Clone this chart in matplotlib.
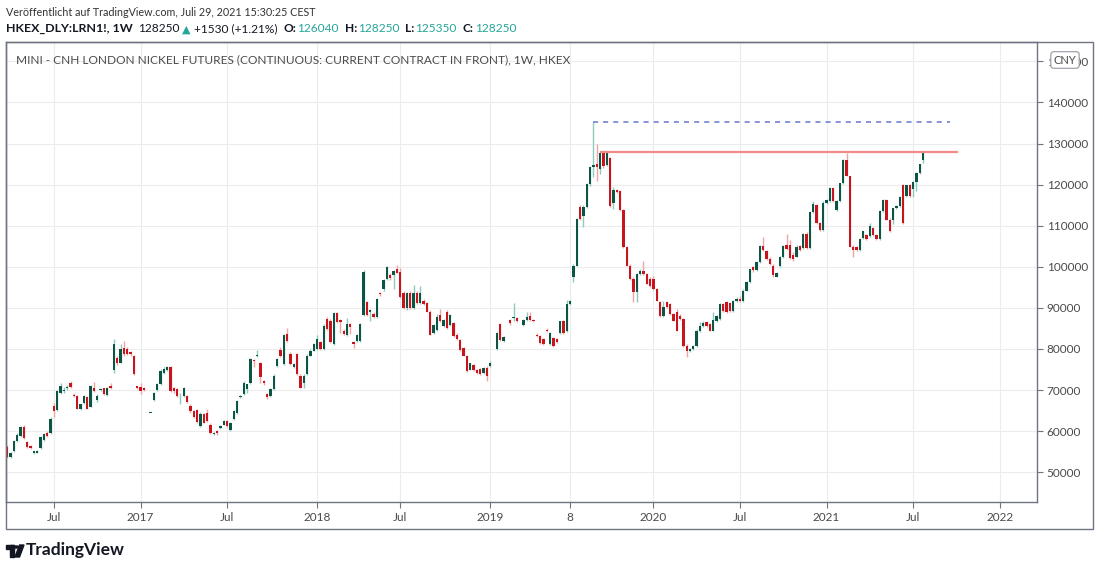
import numpy as np
import matplotlib
matplotlib.use("Agg")
import matplotlib.pyplot as plt
from matplotlib.patches import Rectangle, Circle, Polygon

plt.rcParams['font.family'] = ['Lato', 'DejaVu Sans']

# weekly candles, HKEX mini CNH London nickel (continuous), one bar per traded week
opens = [
    56100, 53800, 55100, 57600, 58800, 61100, 57300, 56500, 54600, 54800,
    55900, 57900, 59600, 59600, 66200, 65200, 69300, 69700, 70400, 71800,
    68900, 68500, 65400, 66800, 68200, 66000, 70500, 67700, 70100, 70400,
    68900, 70900, 75000, 77700, 76700, 80200, 80100, 79200, 78400, 70900,
    70700, 70500, None, 64400, 67700, 70100, 71500, 74200, 74800, 75500,
    70500, 70300, 68500, 68600, 68600, 66200, 64900, 65200, 61200, 64300,
    64500, 61600, 59200, 60000, 60800, 61600, 62500, 60400, 62900, 64500,
    68200, 69000, 70200, 71800, 77300, 78200, 76500, 72200, 69000, 68600,
    70200, 75900, 79800, 76300, 83700, 78800, 75500, 78800, 73500, 71800,
    73900, 78400, 79600, 80000, 81600, 80000, 87400, 86900, 81200, 88700,
    87100, 84500, 83300, 86100, 81600, 82000, 82000, 88200, 91400, 89000,
    88600, 87800, 93600, 94700, 97100, 98100, 98000, 99400, 98800, 93600,
    89900, 93600, 89900, 93600, 91100, 91800, 91100, 89100, 83900, 84700,
    88300, 85500, 89100, 85900, 86300, 83500, 82300, 80300, 78400, 75000,
    76200, 74900, 75200, 74200, 75400, 75800, None, 80000, 86100, 81900,
    None, 87100, 87500, 87500, None, 85900, 87100, 88100, 87100, 83500,
    83100, 82400, 84700, 81100, 82700, 82400, 83900, 86700, 84300, 91000,
    97500, 100300, 114600, 112300, 114600, 120200, 124200, 125000, 123900, 127600,
    124800, 126400, 115600, 118600, 118400, 113700, 104800, 100300, 97100, 93800,
    98300, 98900, 98300, 97100, 97100, 94600, 91400, 88100, 91400, 91000,
    88400, 88900, 88100, 87300, 80800, 79600, 80000, 80800, 84500, 85700,
    86500, 86100, 84500, 86900, 87300, 91000, 91400, 91200, 89300, 91800,
    92200, 91800, 94200, 96300, 99900, 99100, 101100, 105000, 103800, 102000,
    100300, 97600, 100300, 102400, 105200, 105400, 102900, 102500, 105100, 104500,
    108100, 104500, 113300, 115000, 110700, 108900, 115600, 116000, 119100, 113700,
    116000, 120300, 126100, 122000, 104900, 104800, 104100, 107000, 107800, 107400,
    109500, 107800, 106700, 113600, 116200, 111500, 111500, 114200, 114800, 119800,
    117300, 119800, 118900, 120700, 122800, 126040,
]
highs = [
    56600, 55000, 57900, 59500, 61300, 61500, 57600, 56700, 55300, 55400,
    58800, 59500, 60000, 63400, 66800, 70100, 71800, 70800, 71300, 72100,
    69300, 68900, 66700, 68800, 68500, 71200, 72000, 69000, 70500, 70600,
    70800, 71800, 82500, 78200, 81200, 82000, 80500, 79600, 78600, 71100,
    71800, 70800, None, 64400, 69600, 71800, 75100, 75600, 75900, 75900,
    70800, 70600, 69200, 70800, 68900, 66500, 65200, 65500, 64600, 64500,
    65500, 61900, 59800, 60300, 61600, 62800, 62800, 62300, 65200, 67700,
    68900, 72100, 71600, 77900, 77600, 79800, 76800, 72400, 69300, 70500,
    73800, 77900, 80600, 83600, 85000, 79200, 76600, 79100, 73800, 74000,
    78700, 79900, 81500, 83500, 81900, 86000, 87700, 87200, 89000, 89000,
    87400, 84800, 87500, 86400, 81900, 83600, 86400, 99100, 91700, 89700,
    88900, 92500, 93900, 97000, 100300, 98400, 99200, 100400, 99600, 94000,
    93800, 94000, 95600, 94000, 95300, 92200, 91400, 89400, 86000, 88400,
    89700, 87300, 89500, 88500, 86600, 83800, 82500, 80500, 78600, 76700,
    76400, 75100, 75400, 75600, 75800, 77000, None, 84100, 86300, 83100,
    None, 87400, 91100, 87800, None, 87300, 89100, 88900, 87300, 83800,
    83300, 82600, 85100, 84100, 82900, 82600, 86900, 87000, 92000, 91900,
    100600, 111900, 115000, 115000, 120400, 124600, 135300, 130000, 128000, 128000,
    128000, 126600, 119300, 118900, 118700, 114000, 105100, 100600, 97400, 98500,
    99500, 101500, 98600, 97400, 97700, 94900, 91700, 91600, 91700, 91300,
    88700, 89700, 88400, 87600, 81100, 80300, 81000, 84800, 86500, 86900,
    86800, 86400, 88900, 88200, 91100, 91300, 91700, 91500, 91900, 92600,
    93000, 94600, 96500, 99500, 100200, 101400, 105200, 107200, 104200, 102300,
    100600, 98800, 102700, 105300, 108100, 106600, 103500, 105200, 105400, 108300,
    108400, 113500, 116000, 115300, 111000, 116000, 116400, 119300, 119400, 116200,
    120500, 126300, 127600, 122200, 105200, 105000, 107000, 108800, 108000, 110700,
    109800, 108000, 113800, 116400, 116500, 111800, 114400, 115000, 117300, 120100,
    120000, 120100, 120900, 123000, 125000, 128250,
]
lows = [
    53500, 53500, 54900, 57300, 58500, 58200, 55900, 55700, 54400, 54600,
    55700, 57700, 58600, 59400, 63500, 64900, 69000, 69300, 70000, 70500,
    68200, 65300, 65100, 66600, 65300, 65800, 69500, 67000, 69900, 68800,
    68600, 70200, 74200, 76200, 76500, 78400, 78500, 78400, 73600, 70300,
    69000, 69800, None, 64400, 67400, 69900, 71300, 74000, 74600, 69500,
    69400, 68300, 66500, 68300, 66800, 64500, 63200, 62000, 61000, 61900,
    62200, 59400, 59000, 59000, 60500, 61400, 61000, 60000, 62700, 64300,
    68000, 68800, 69400, 71600, 75500, 78000, 71800, 71200, 67900, 68400,
    70000, 75700, 78100, 76100, 81800, 76000, 75300, 73600, 70400, 70600,
    73700, 78200, 79400, 79800, 79800, 79800, 84600, 81400, 81000, 86300,
    84000, 83400, 83100, 83700, 80200, 81800, 81800, 88000, 88000, 86900,
    87500, 87500, 93000, 94000, 96900, 96900, 94500, 98400, 92500, 89700,
    89600, 89700, 89700, 90900, 90900, 90800, 88900, 83300, 83700, 84500,
    86500, 85300, 84900, 85700, 82900, 82200, 79600, 78200, 74400, 74800,
    74700, 74000, 73600, 74000, 72200, 75600, None, 79800, 82000, 81700,
    None, 85900, 86900, 86500, None, 85700, 86900, 86900, 86500, 82900,
    81200, 80900, 84100, 80900, 80600, 81400, 83700, 83700, 84100, 90800,
    96300, 100100, 111500, 109800, 114300, 119600, 121900, 120800, 122500, 124000,
    124500, 114500, 114000, 117900, 113500, 104600, 100100, 96900, 91400, 91400,
    98100, 98100, 95700, 95200, 94400, 91600, 87900, 87900, 90000, 88300,
    86700, 84300, 87100, 80600, 78000, 79300, 79700, 80500, 84200, 85400,
    85400, 84300, 84300, 86600, 87000, 89100, 88700, 89100, 89100, 91500,
    91500, 91500, 94000, 96000, 98800, 98900, 100900, 103800, 101700, 100400,
    97600, 97400, 100000, 102200, 104200, 102000, 101500, 102300, 103900, 104300,
    104300, 104300, 113100, 110500, 108700, 108700, 115400, 115800, 115800, 113500,
    115800, 120100, 122000, 104700, 102500, 103800, 103900, 106800, 106500, 107200,
    107600, 106500, 106500, 113400, 111300, 108400, 110300, 114000, 114600, 110500,
    117100, 117100, 117000, 118500, 122600, 125350,
]
closes = [
    53700, 54700, 57600, 59000, 61100, 58400, 56100, 55900, 55100, 55100,
    58600, 59200, 58800, 62900, 65000, 69700, 71100, 70100, 70700, 70700,
    68500, 65500, 66500, 68500, 65500, 70900, 69700, 68500, 70200, 69100,
    70500, 70400, 81200, 76500, 80000, 78800, 78800, 78700, 73800, 70500,
    69700, 70000, None, 64400, 69300, 71500, 74700, 75100, 75500, 69700,
    69700, 68600, 68600, 70500, 67000, 64800, 63500, 62300, 64300, 62100,
    62500, 59600, 59600, 59600, 61200, 62500, 61200, 62100, 64900, 67400,
    68600, 71800, 71400, 77600, 77000, 78500, 73100, 71800, 68200, 70200,
    73500, 77600, 78400, 83300, 82000, 76300, 76300, 73900, 70600, 73500,
    78400, 79600, 81200, 82500, 80000, 85700, 84900, 81600, 88700, 86500,
    86500, 83700, 86100, 85300, 81200, 83300, 86100, 98800, 88200, 89400,
    87800, 92200, 93300, 96700, 100000, 97200, 99000, 98600, 92700, 89900,
    93600, 89900, 93600, 91100, 93600, 91000, 89100, 83500, 85900, 87900,
    86700, 87100, 85100, 88300, 83100, 82400, 79800, 78400, 74600, 76500,
    74900, 74200, 73800, 75400, 73400, 76600, None, 83900, 82100, 82900,
    None, 86300, 87600, 86700, None, 87100, 87900, 87100, 86700, 83100,
    81500, 81100, 84300, 83900, 80800, 81600, 86700, 83900, 91000, 91800,
    100300, 111700, 111700, 114600, 120200, 124200, 124800, 124400, 127600, 124500,
    127600, 114800, 118800, 118200, 113700, 104800, 100300, 97100, 93800, 98300,
    98900, 98300, 95900, 95400, 94600, 91800, 88100, 90200, 90200, 88500,
    86900, 84500, 87300, 80800, 79600, 80000, 80800, 84500, 85700, 86300,
    85700, 84500, 87100, 88100, 91000, 89300, 88900, 89300, 91800, 92200,
    91800, 94200, 96300, 99500, 99100, 101100, 105000, 104000, 102000, 100700,
    97900, 98500, 102400, 105000, 104400, 102100, 101800, 104900, 104100, 108100,
    104500, 113300, 115200, 110700, 108900, 115600, 116200, 119100, 116000, 116000,
    120300, 126100, 122200, 104900, 104100, 104000, 106700, 108600, 106700, 109900,
    107800, 106700, 113600, 116200, 111500, 108600, 114200, 114800, 117100, 110700,
    119800, 117300, 120700, 122800, 124900, 128250,
]

# time axis labels (bar index of the first bar of each labelled period)
tick_bars = [14, 40, 66, 93, 118, 145, 169, 194, 220, 246, 272, 298]
tick_labels = ["Jul", "2017", "Jul", "2018", "Jul", "2019", "8",
               "2020", "Jul", "2021", "Jul", "2022"]
price_ticks = [50000, 60000, 70000, 80000, 90000, 100000,
               110000, 120000, 130000, 140000, 150000]

# drawn levels: (price, first bar, last bar)
resistance = (127900, 178, 285.6)
spike_high = (135300, 176, 283)

W, H = 1100, 566
frame = "#707380"
up_body, up_wick = "#0c5443", "#8fcbbd"
dn_body, dn_wick = "#c8141c", "#f2a3a3"
teal = "#26a69a"


def fx(x):
    return x / W


def fy(y):
    return 1 - y / H


fig = plt.figure(figsize=(W / 100, H / 100), dpi=100)
ax = fig.add_axes([fx(6), fy(502), (1037 - 6) / W, (502 - 42) / H])

o = np.array(opens, dtype=float)
h = np.array(highs, dtype=float)
l = np.array(lows, dtype=float)
c = np.array(closes, dtype=float)
idx = np.arange(len(c))
ok = ~np.isnan(c)
up = ok & (c >= o)
dn = ok & (c < o)

ax.vlines(idx[up], l[up], h[up], color=up_wick, lw=1, zorder=2)
ax.vlines(idx[dn], l[dn], h[dn], color=dn_wick, lw=1, zorder=2)
bot = np.minimum(o, c)
hgt = np.maximum(np.abs(c - o), 180)
ax.bar(idx[up], hgt[up], bottom=bot[up], width=0.7, color=up_body, lw=0, zorder=3)
ax.bar(idx[dn], hgt[dn], bottom=bot[dn], width=0.7, color=dn_body, lw=0, zorder=3)

ax.hlines(resistance[0], resistance[1], resistance[2], color="#f28b86", lw=1.6, zorder=4)
ax.plot([spike_high[1], spike_high[2]], [spike_high[0]] * 2, color="#7c8ad6",
        lw=1.3, dashes=(2.8, 2.8), zorder=4)

ax.set_xlim(-0.4, 309.2)
ax.set_ylim(42770, 154700)
ax.set_xticks(tick_bars)
ax.set_xticklabels(tick_labels)
ax.set_yticks(price_ticks)
ax.set_yticklabels([str(v) for v in price_ticks])
ax.yaxis.tick_right()
ax.grid(True, color="#ececec", lw=0.8, zorder=0)
ax.set_axisbelow(True)
ax.tick_params(axis="x", length=4, color=frame, labelsize=8.5, labelcolor="#4a4a4a", pad=3)
ax.tick_params(axis="y", length=4, color=frame, labelsize=8.5, labelcolor="#4a4a4a", pad=3)
for s in ax.spines.values():
    s.set_color(frame)
    s.set_linewidth(1)

# outer frame round chart + both axes
fig.patches.append(Rectangle((fx(6), fy(529)), (1093 - 6) / W, (529 - 42) / H,
                             fill=False, edgecolor=frame, lw=1, transform=fig.transFigure))

# currency badge sits over the top price label, as on the reference
fig.text(fx(1065), fy(60), "CNY", ha="center", va="center", fontsize=8, color="#4a4a4a",
         bbox=dict(boxstyle="round,pad=0.25", fc="white", ec="#9598a1", lw=0.8), zorder=10)

fig.text(fx(16), fy(60), "MINI - CNH LONDON NICKEL FUTURES (CONTINUOUS: CURRENT CONTRACT "
         "IN FRONT), 1W, HKEX", fontsize=8.6, color="#4a4a4a", va="center")

fig.text(fx(6), fy(12), "Veröffentlicht auf TradingView.com, Juli 29, 2021 15:30:25 CEST",
         fontsize=7.75, color="#333333", va="center")

renderer = fig.canvas.get_renderer()
parts = [("HKEX_DLY:LRN1!, 1W", "#131722", "bold", 8.9, 5),
         ("128250", "#131722", "normal", 8.6, 3),
         ("▲", teal, "normal", 8.0, 3),
         ("+1530 (+1.21%)", "#131722", "normal", 8.6, 6),
         ("O:", "#131722", "bold", 8.6, 1), ("126040", teal, "normal", 8.6, 6),
         ("H:", "#131722", "bold", 8.6, 1), ("128250", teal, "normal", 8.6, 6),
         ("L:", "#131722", "bold", 8.6, 1), ("125350", teal, "normal", 8.6, 6),
         ("C:", "#131722", "bold", 8.6, 1), ("128250", teal, "normal", 8.6, 0)]
xp = 6
for txt, col, wt, size, gap in parts:
    t = fig.text(fx(xp), fy(29), txt, fontsize=size, color=col, weight=wt, va="center")
    xp += t.get_window_extent(renderer).width + gap

# TradingView logo
logo = "#131722"
fig.patches.append(Rectangle((fx(6), fy(549)), 7.5 / W, 4 / H, color=logo, transform=fig.transFigure))
fig.patches.append(Rectangle((fx(9.5), fy(557)), 4 / W, 12 / H, color=logo, transform=fig.transFigure))
fig.patches.append(Circle((fx(16.5), fy(547)), 2 / W, color=logo, transform=fig.transFigure))
fig.patches.append(Polygon([(fx(19.5), fy(545)), (fx(24), fy(545)), (fx(19.5), fy(557)),
                            (fx(15), fy(557))], color=logo, transform=fig.transFigure))
fig.text(fx(26), fy(550), "TradingView", fontsize=12.5, weight="bold", color=logo, va="center")

fig.savefig("out.png", dpi=100)
